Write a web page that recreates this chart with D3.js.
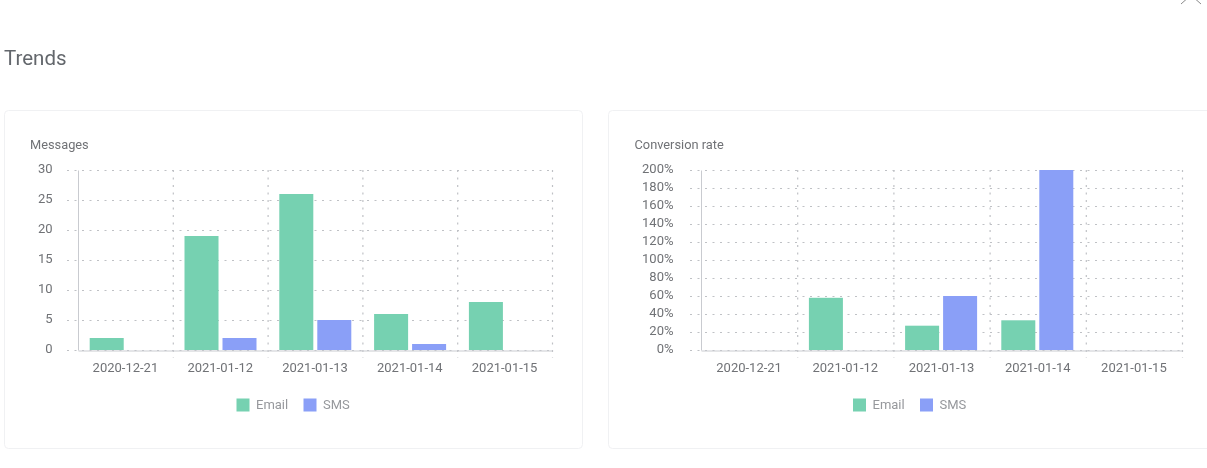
<!DOCTYPE html>
<html>
<head>
<meta charset="utf-8">
<script src="https://cdn.jsdelivr.net/npm/d3@7"></script>
<style>
html,body{margin:0;padding:0;background:#fff;overflow:hidden;}
text{font-family:Roboto,sans-serif;}
svg{filter:blur(0.35px);}
</style>
</head>
<body>
<div class="page"></div>
<script>
var width = 1207, height = 468;
var days = ['2020-12-21','2021-01-12','2021-01-13','2021-01-14','2021-01-15'];
var colors = {Email:'#76d1b1', SMS:'#8a9ff7'};
// values, null = no bar
var charts = [
    {title:'Messages', card:[4,110,578,338], titleX:30, left:78, right:552, top:170, bottom:350, gridLeft:67,
     max:30, step:5, suffix:'', labelX:52.5, legendX:236.5,
     Email:[2,19,26,6,8], SMS:[null,2,5,1,null]},
    {title:'Conversion rate', card:[608,110,620,338], titleX:634.5, left:701, right:1182, top:170, bottom:350, gridLeft:690,
     max:200, step:20, suffix:'%', labelX:673.5, legendX:853,
     Email:[null,58,27,33,null], SMS:[null,null,60,200,null]}
];

var svg = d3.select('.page').append('svg')
    .attr('width',width)
    .attr('height',height)
    .style('display','block');

svg.append('text')
    .attr('x',4)
    .attr('y',65)
    .attr('font-size',20.5)
    .attr('fill','#63676c')
    .text('Trends');

// close icon, cut off by the top edge
svg.append('path')
    .attr('d','M1190,-4L1181,4M1192,-4L1201,4')
    .attr('fill','none')
    .attr('stroke','#8a8a8a')
    .attr('stroke-width',1);

charts.forEach(drawChart);

function drawChart(c) {
    var g = svg.append('g');
    g.append('rect')
        .attr('x',c.card[0]+0.5)
        .attr('y',c.card[1]+0.5)
        .attr('width',c.card[2])
        .attr('height',c.card[3])
        .attr('rx',4)
        .attr('fill','#fff')
        .attr('stroke','#f0f1f3');

    g.append('text')
        .attr('x',c.titleX)
        .attr('y',149)
        .attr('font-size',12.8)
        .attr('fill','#707276')
        .text(c.title);

    var x = d3.scaleBand().domain(days).range([c.left,c.right]);
    var y = d3.scaleLinear().domain([0,c.max]).range([c.bottom,c.top]);
    var inner = d3.scaleBand().domain(['Email','SMS'])
        .range([11.7,83.7]).paddingInner(0.105);

    var yTicks = d3.range(0,c.max+c.step,c.step);

    // dotted grid
    g.selectAll('.hgrid').data(yTicks).enter().append('line')
        .attr('x1',c.gridLeft)
        .attr('x2',c.right)
        .attr('y1',function (d) { return y(d)+0.5; })
        .attr('y2',function (d) { return y(d)+0.5; })
        .attr('stroke','#bfc1c5')
        .attr('stroke-width',1.2)
        .attr('stroke-dasharray','2,5.5');
    g.selectAll('.vgrid').data(days).enter().append('line')
        .attr('x1',function (d) { return x(d)+x.bandwidth()+0.5; })
        .attr('x2',function (d) { return x(d)+x.bandwidth()+0.5; })
        .attr('y1',c.top)
        .attr('y2',c.bottom+8)
        .attr('stroke','#bfc1c5')
        .attr('stroke-width',1.2)
        .attr('stroke-dasharray','2,5.5');

    // bars
    ['Email','SMS'].forEach(function (name) {
        var rows = days.map(function (d,i) { return {day:d, v:c[name][i]}; })
            .filter(function (d) { return d.v !== null; });
        g.selectAll('.bar'+name).data(rows).enter().append('rect')
            .attr('x',function (d) { return x(d.day)+inner(name); })
            .attr('y',function (d) { return y(d.v); })
            .attr('width',inner.bandwidth())
            .attr('height',function (d) { return c.bottom-y(d.v); })
            .attr('fill',colors[name]);
    });

    // axes
    var yAxis = d3.axisLeft(y).tickValues(yTicks).tickSize(0).tickPadding(0)
        .tickFormat(function (d) { return d+c.suffix; });
    var ya = g.append('g').attr('transform','translate('+c.left+',0)').call(yAxis);
    ya.select('.domain').attr('stroke','#c9cbd0').attr('stroke-width',1);
    ya.selectAll('text')
        .attr('x',c.labelX-c.left)
        .attr('dy','0.22em')
        .attr('font-family','Roboto,sans-serif')
        .attr('font-size',13)
        .attr('fill','#707276');

    var xAxis = d3.axisBottom(x).tickSize(0).tickPadding(0);
    var xa = g.append('g').attr('transform','translate(0,'+(c.bottom+0.5)+')').call(xAxis);
    xa.select('.domain').attr('stroke','#c9cbd0').attr('stroke-width',1);
    xa.selectAll('text')
        .attr('y',12)
        .attr('font-family','Roboto,sans-serif')
        .attr('font-size',13)
        .attr('fill','#707276');

    // legend
    var legend = [{name:'Email',x:c.legendX},{name:'SMS',x:c.legendX+67}];
    g.selectAll('.lg').data(legend).enter().append('rect')
        .attr('x',function (d) { return d.x; })
        .attr('y',398.5)
        .attr('width',13)
        .attr('height',13)
        .attr('fill',function (d) { return colors[d.name]; });
    g.selectAll('.lgt').data(legend).enter().append('text')
        .attr('x',function (d) { return d.x+19.5; })
        .attr('y',409)
        .attr('font-size',13)
        .attr('fill','#96989c')
        .text(function (d) { return d.name; });
}
</script>
</body>
</html>
